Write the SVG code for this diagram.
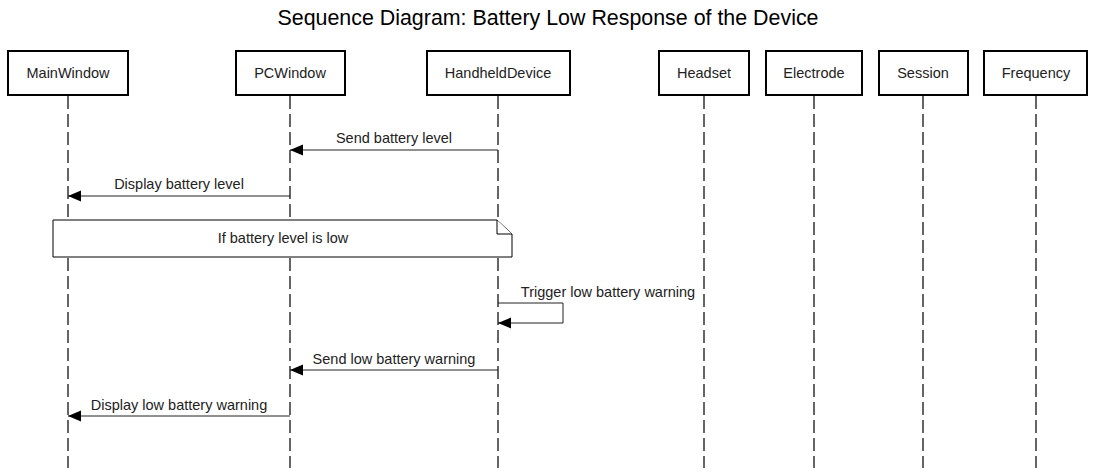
<svg xmlns="http://www.w3.org/2000/svg" width="1096" height="473" viewBox="0 0 1096 473">
<defs>
<style>
.box{fill:#fff;stroke:#000;stroke-width:2}
.lbl{font-family:"Liberation Sans",Arial,sans-serif;font-size:14.5px;fill:#222;text-anchor:middle}
.life{stroke:#333;stroke-width:1.5;stroke-dasharray:13 5;fill:none}
.msg{stroke:#222;stroke-width:1;fill:none}
.note{fill:#fff;stroke:#000;stroke-width:1}
.title{font-family:"Liberation Sans",Arial,sans-serif;font-size:21.4px;fill:#000;text-anchor:middle}
</style>
<marker id="ah" markerUnits="userSpaceOnUse" markerWidth="14" markerHeight="12" refX="13" refY="5.5" orient="auto">
<path d="M0,0 L13,5.5 L0,11 z" fill="#000"/>
</marker>
</defs>
<rect width="1096" height="473" fill="#fff"/>
<text class="title" x="548" y="25">Sequence Diagram: Battery Low Response of the Device</text>
<g id="lifelines">
<line class="life" x1="68" y1="96" x2="68" y2="468"/>
<line class="life" x1="290" y1="96" x2="290" y2="468"/>
<line class="life" x1="498" y1="96" x2="498" y2="468"/>
<line class="life" x1="704" y1="96" x2="704" y2="468"/>
<line class="life" x1="814" y1="96" x2="814" y2="468"/>
<line class="life" x1="923" y1="96" x2="923" y2="468"/>
<line class="life" x1="1036" y1="96" x2="1036" y2="468"/>
</g>
<g id="MainWindow"><rect class="box" x="8" y="51" width="120" height="44"/><text class="lbl" x="68" y="78">MainWindow</text></g>
<g id="PCWindow"><rect class="box" x="236" y="51" width="109" height="44"/><text class="lbl" x="290" y="78">PCWindow</text></g>
<g id="HandheldDevice"><rect class="box" x="427" y="51" width="143" height="44"/><text class="lbl" x="498" y="78">HandheldDevice</text></g>
<g id="Headset"><rect class="box" x="659" y="51" width="90" height="44"/><text class="lbl" x="704" y="78">Headset</text></g>
<g id="Electrode"><rect class="box" x="766" y="51" width="96" height="44"/><text class="lbl" x="814" y="78">Electrode</text></g>
<g id="Session"><rect class="box" x="879" y="51" width="89" height="44"/><text class="lbl" x="923" y="78">Session</text></g>
<g id="Frequency"><rect class="box" x="984" y="51" width="103" height="44"/><text class="lbl" x="1036" y="78">Frequency</text></g>
<g id="note">
<path class="note" d="M53,220 L497,220 L512,234 L512,257 L53,257 Z"/>
<path class="note" d="M497,220 L497,234 L512,234" fill="none"/>
<text class="lbl" x="283" y="243">If battery level is low</text>
</g>
<g id="connectors">
<line class="msg" x1="498" y1="150" x2="290" y2="150" marker-end="url(#ah)"/>
<text class="lbl" x="394" y="143">Send battery level</text>
<line class="msg" x1="290" y1="196" x2="68" y2="196" marker-end="url(#ah)"/>
<text class="lbl" x="179" y="189">Display battery level</text>
<polyline class="msg" points="498,303 563,303 563,323 498,323" marker-end="url(#ah)"/>
<text class="lbl" x="608" y="297">Trigger low battery warning</text>
<line class="msg" x1="498" y1="370" x2="290" y2="370" marker-end="url(#ah)"/>
<text class="lbl" x="394" y="364">Send low battery warning</text>
<line class="msg" x1="290" y1="416" x2="68" y2="416" marker-end="url(#ah)"/>
<text class="lbl" x="179" y="410">Display low battery warning</text>
</g>
</svg>
